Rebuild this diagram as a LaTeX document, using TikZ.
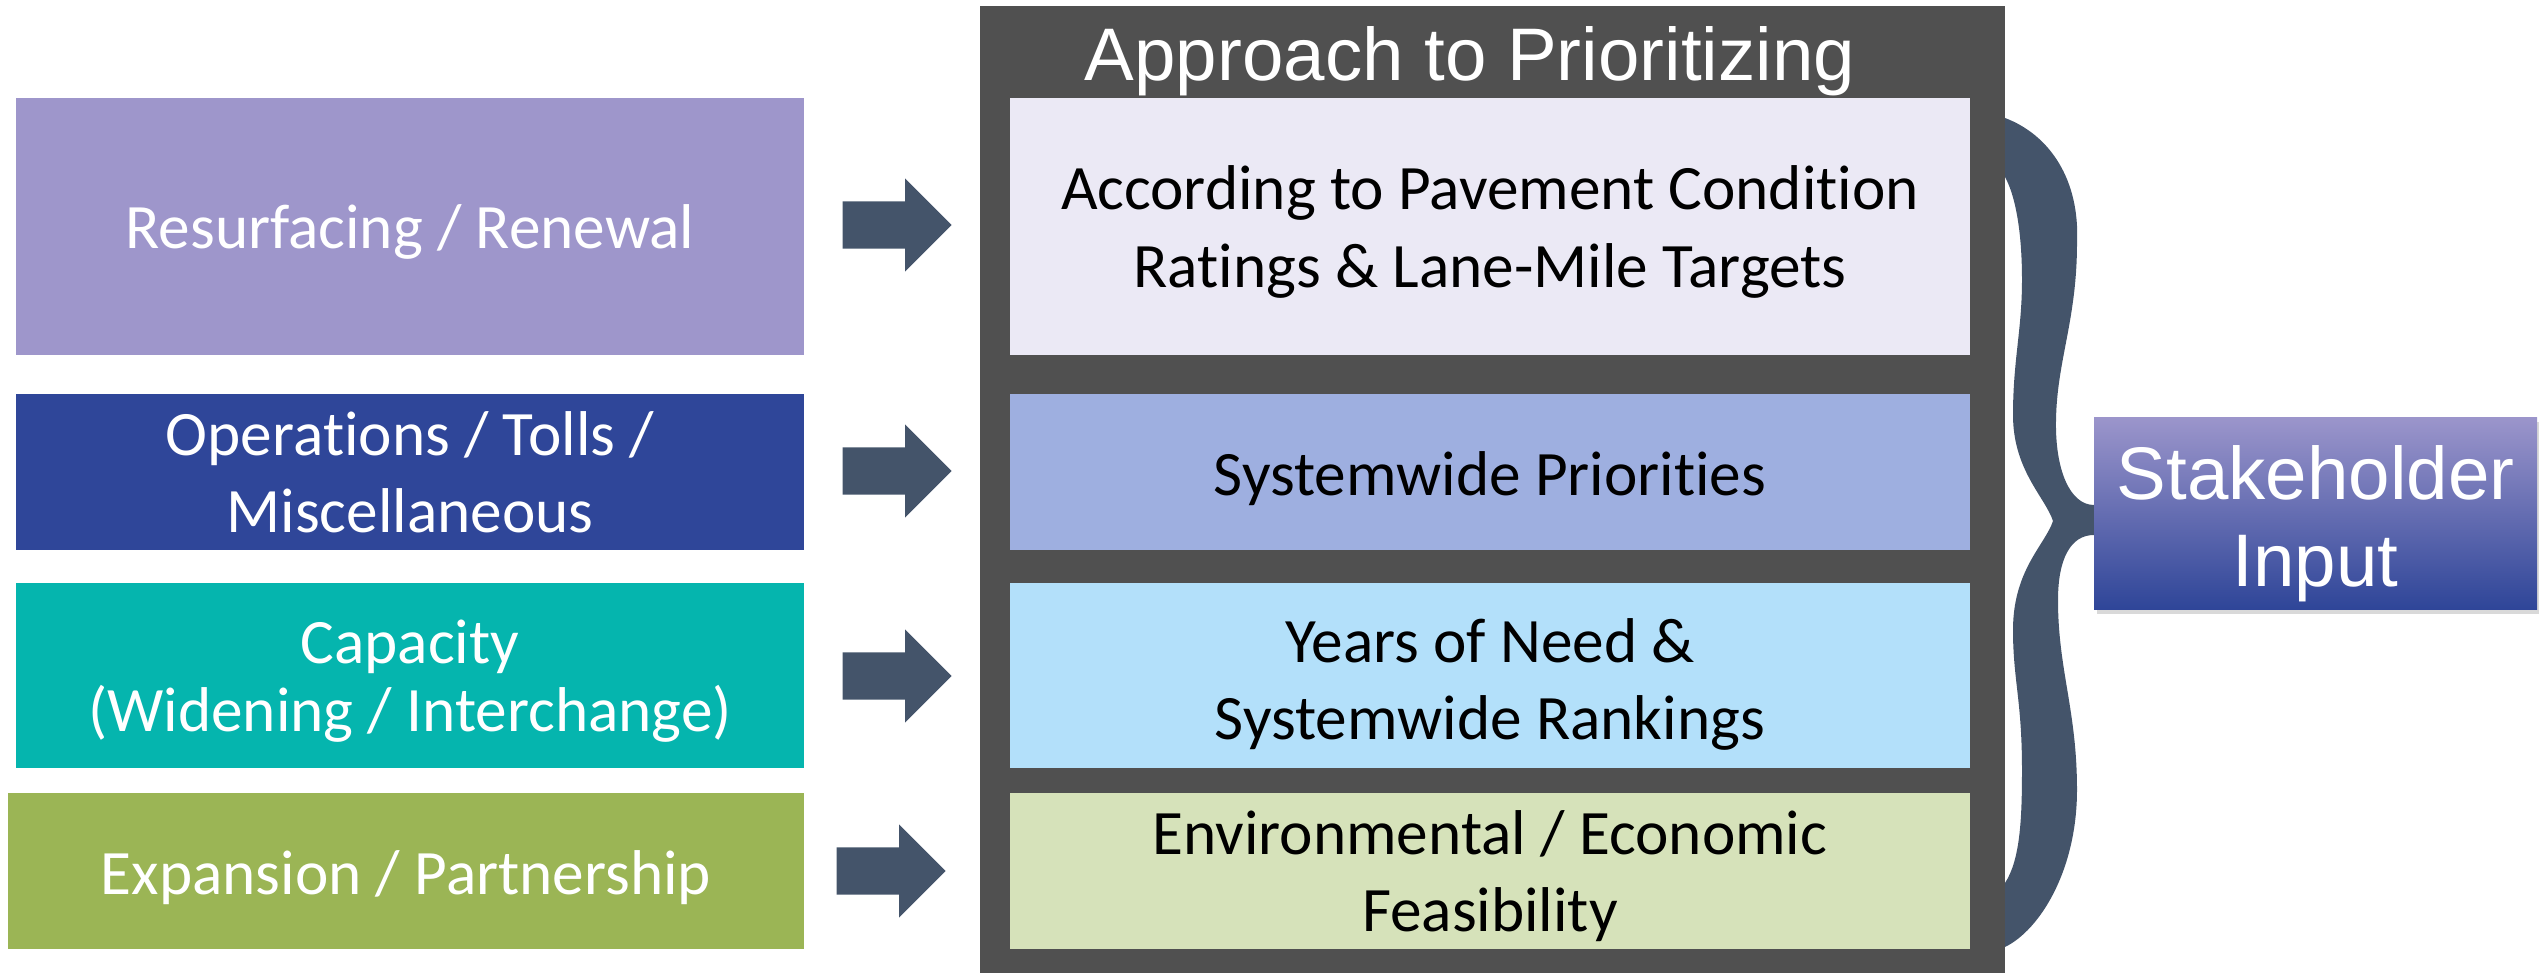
\documentclass[tikz,border=0pt]{standalone}
\usepackage{fontspec}
\setmainfont{Carlito}[Ligatures=NoCommon]
\newfontfamily\arialfont{Liberation Sans}
\usepackage{xcolor}
\usepackage{tikz}
\usetikzlibrary{shapes.arrows,shadows}
\definecolor{resurfc}{RGB}{158,150,203}
\definecolor{opsc}{RGB}{47,70,153}
\definecolor{capc}{RGB}{5,181,174}
\definecolor{expc}{RGB}{155,181,85}
\definecolor{arrowc}{RGB}{68,84,106}
\definecolor{framec}{RGB}{80,80,80}
\definecolor{pavec}{RGB}{235,233,245}
\definecolor{sysc}{RGB}{158,175,224}
\definecolor{needc}{RGB}{179,224,250}
\definecolor{envc}{RGB}{214,226,186}
\definecolor{stktop}{RGB}{155,149,203}
\definecolor{stkmid}{RGB}{118,135,214}
\definecolor{stkbot}{RGB}{46,69,152}

\begin{document}
\begin{tikzpicture}[
    boxtext/.style={inner sep=0pt, align=center, font=\fontsize{18}{22}\selectfont, text height=12.5pt, text depth=0pt},
    twoline/.style={text height=34.5pt},
    catbox/.style={boxtext, minimum width=7.88cm, text=white},
    rankbox/.style={boxtext, minimum width=9.60cm, text=black},
    blockarrow/.style={single arrow, fill=arrowc, anchor=tail, minimum height=1.09cm, inner sep=0.23cm, single arrow head extend=0.23cm}]
    \useasboundingbox (0,0) rectangle (25.39,9.73);
    \node[catbox, fill=resurfc, minimum height=2.57cm] (l1) at (4.10, 7.465) {Resurfacing / Renewal};
    \node[catbox, twoline, fill=opsc, minimum height=1.56cm] (l2) at (4.10, 5.010) {Operations / Tolls /\\Miscellaneous};
    \node[catbox, fill=capc, minimum height=1.85cm, font=\fontsize{18}{19.6}\selectfont, text height=32.1pt] (l3) at (4.10, 2.975) {Capacity\\(Widening / Interchange)};
    \node[catbox, fill=expc, minimum height=1.56cm, minimum width=7.96cm, text height=13.5pt] (l4) at (4.06, 1.020) {Expansion / Partnership};
    \node[fill=framec, inner sep=0pt, minimum width=10.25cm, minimum height=9.67cm] (frame) at (14.925, 4.835) {};
    \node[anchor=base, text=white, font=\arialfont\fontsize{21.2}{25}\selectfont] (title) at (14.70, 8.92) {Approach to Prioritizing};
    \node[rankbox, twoline, fill=pavec, minimum height=2.57cm] (r1) at (14.90, 7.465) {According to Pavement Condition\\Ratings \& Lane-Mile Targets};
    \node[rankbox, fill=sysc, minimum height=1.56cm, text height=13.5pt] (r2) at (14.90, 5.010) {Systemwide Priorities};
    \node[rankbox, twoline, fill=needc, minimum height=1.85cm, text height=36.5pt] (r3) at (14.90, 2.975) {Years of Need \&\\Systemwide Rankings};
    \node[rankbox, twoline, fill=envc, minimum height=1.56cm] (r4) at (14.90, 1.020) {Environmental / Economic\\Feasibility};
    \node[blockarrow] (a1) at (8.42, 7.48) {};
    \node[blockarrow] (a2) at (8.42, 5.02) {};
    \node[blockarrow] (a3) at (8.42, 2.97) {};
    \node[blockarrow] (a4) at (8.36, 1.02) {};
    \fill[arrowc] (20.05,8.55) .. controls (20.50,8.38) and (20.80,7.93) .. (20.77,7.30)
        .. controls (20.77,6.53) and (20.57,6.13) .. (20.56,5.53)
        .. controls (20.55,5.03) and (20.70,4.68) .. (20.94,4.68) -- (20.94,4.38)
        .. controls (20.70,4.38) and (20.58,4.13) .. (20.58,3.73)
        .. controls (20.58,3.03) and (20.77,2.63) .. (20.77,1.83)
        .. controls (20.77,1.03) and (20.40,0.43) .. (20.05,0.26) -- (20.05,0.90)
        .. controls (20.20,1.13) and (20.22,1.53) .. (20.22,2.03)
        .. controls (20.22,2.73) and (20.13,2.93) .. (20.13,3.43)
        .. controls (20.13,4.03) and (20.45,4.28) .. (20.53,4.52)
        .. controls (20.45,4.76) and (20.13,5.03) .. (20.13,5.58)
        .. controls (20.13,6.13) and (20.22,6.43) .. (20.22,6.93)
        .. controls (20.22,7.43) and (20.15,7.78) .. (20.05,7.96) -- cycle;
    \node[top color=stktop, middle color=stkmid, bottom color=stkbot, drop shadow={opacity=0.3, shadow xshift=0.03cm, shadow yshift=-0.04cm},
        minimum width=4.43cm, minimum height=1.92cm, inner sep=0pt, align=center, text=white,
        font=\arialfont\fontsize{21.2}{25}\selectfont, text height=41.5pt, text depth=0pt] (input) at (23.155, 4.59) {Stakeholder\\Input};
\end{tikzpicture}
\end{document}
